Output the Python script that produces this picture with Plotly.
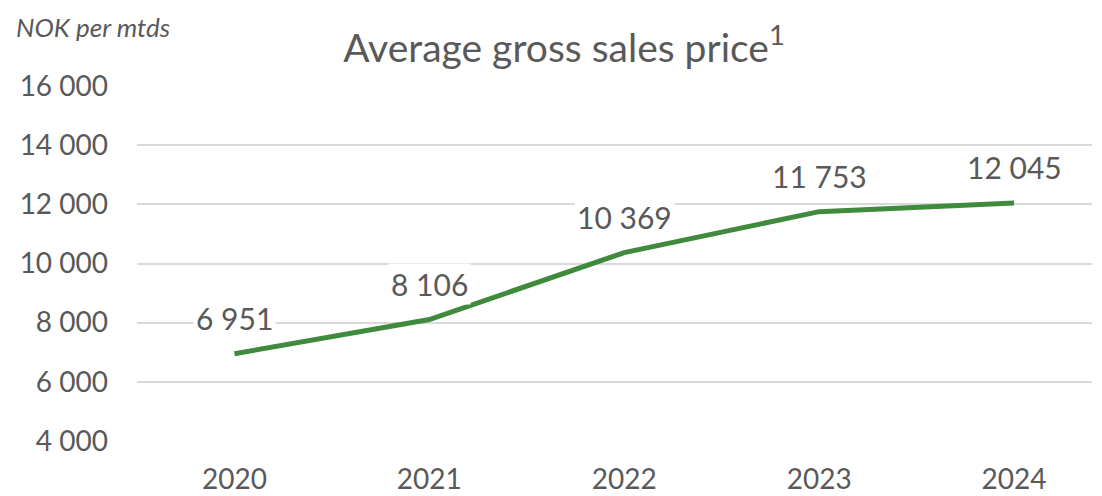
import plotly.graph_objects as go

years = ["2020", "2021", "2022", "2023", "2024"]
prices = [6951, 8106, 10369, 11753, 12045]
y_ticks = [4000, 6000, 8000, 10000, 12000, 14000, 16000]

FONT = "Lato, 'Open Sans', sans-serif"
GREY = "#595959"

def fmt(v):
    return f"{v:,}".replace(",", " ")

# page body has an 8px margin; figure sized to fit the window
W, H = 1094, 488
L, T, R, B = 129, 78, 10, 55
PH = H - T - B
PW = W - L - R

fig = go.Figure()
fig.add_trace(go.Scatter(
    x=list(range(len(years))), y=prices, mode="lines",
    line=dict(color="#3f8a3c", width=5), hoverinfo="skip", showlegend=False,
))

for i, v in enumerate(prices):
    fig.add_annotation(x=i, y=v, text=fmt(v), showarrow=False, yshift=36,
                       bgcolor="white", borderpad=2,
                       font=dict(family=FONT, size=30, color=GREY))

fig.add_annotation(xref="paper", yref="paper", x=(7 - L) / PW, y=1 + (T - 19) / PH,
                   xanchor="left", yanchor="middle", borderpad=0,
                   text="<i>NOK per mtds</i>", showarrow=False,
                   font=dict(family=FONT, size=26, color=GREY))

fig.update_layout(
    width=W, height=H,
    margin=dict(l=L, r=R, t=T, b=B),
    paper_bgcolor="white", plot_bgcolor="white",
    separators=", ",
    title=dict(text="Average gross sales price<sup>1</sup>", x=(564 - 8) / W, xanchor="center",
               y=1 - 40 / H, yanchor="middle",
               font=dict(family=FONT, size=39, color=GREY)),
    xaxis=dict(tickmode="array", tickvals=list(range(len(years))), ticktext=years,
               range=[-0.5, 4.4], showgrid=False, zeroline=False, showline=False,
               ticks="", ticklabelstandoff=19, automargin=False,
               tickfont=dict(family=FONT, size=28, color=GREY)),
    yaxis=dict(range=[4000, 16000], tickvals=y_ticks, tickformat=",d",
               showgrid=True, gridcolor="#d9d9d9", gridwidth=2, zeroline=False,
               showline=False, ticks="", ticklabelstandoff=28, automargin=False,
               tickfont=dict(family=FONT, size=28, color=GREY)),
)

fig.write_html("out.html")
